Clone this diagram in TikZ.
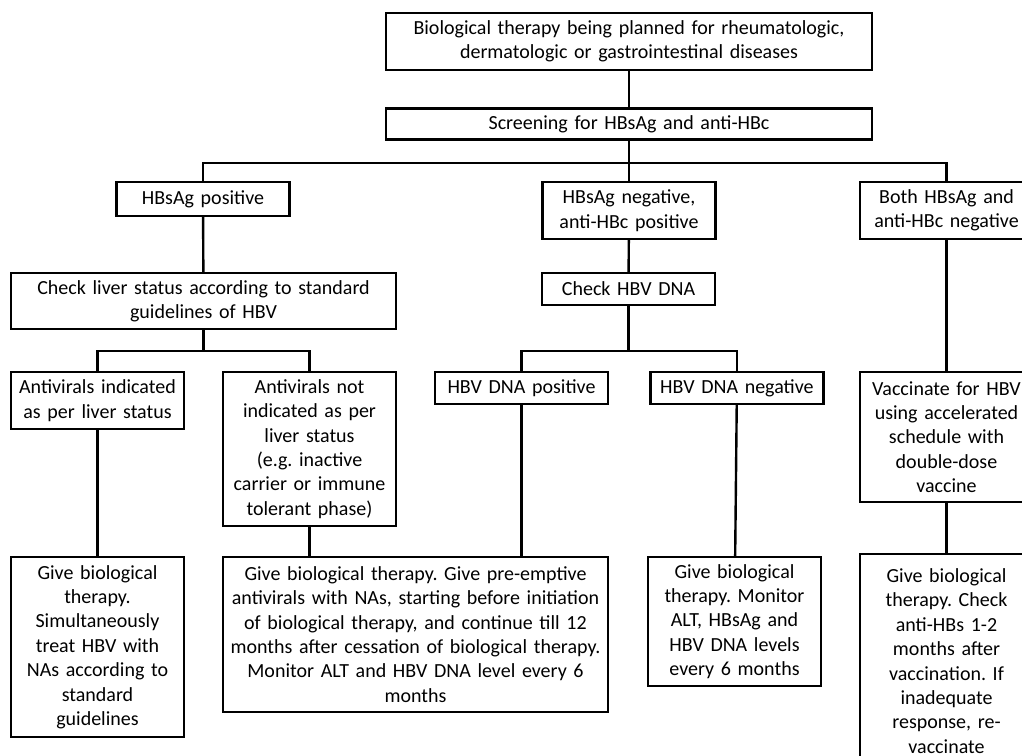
\documentclass[tikz,border=0pt]{standalone}
\usepackage{fontspec}
\setmainfont{Carlito}
\frenchspacing
\usetikzlibrary{positioning}
\tikzset{
    %Define style for boxes
    cell/.style={
           rectangle,
           draw=black, line width=2.4pt,
           text width=161pt,
           inner xsep=6pt, inner ysep=2pt,
           align=center,
           font=\fontsize{20}{24.4}\selectfont},
    %Define style for the wider boxes
    widecell/.style={
           cell,
           text width=373pt},
    % Define connector style
    link/.style={
           line width=2.4pt}
}

\begin{document}
\begin{tikzpicture}[x=1pt,y=-1pt]
\useasboundingbox (0,0) rectangle (1022,755);
\clip (0,0) rectangle (1022,755);
\node [widecell,text width=474pt,minimum height=57pt] (plan) at (629,41.5) {Biological therapy being planned for rheumatologic,\\ dermatologic or gastrointestinal diseases};
\node [widecell,text width=474pt,minimum height=31pt,below=36pt of plan] (screen) {Screening for HBsAg and anti-HBc};
\node [cell,minimum height=34pt] (pos) at (203,199) {HBsAg positive};
\node [cell,minimum height=57pt] (neg) at (629,210.5) {HBsAg negative,\\ anti-HBc positive};
\node [cell,minimum height=57pt] (both) at (946.5,210.5) {Both HBsAg and\\ anti-HBc negative};
\node [widecell,minimum height=56pt] (liver) at (203.5,301) {Check liver status according to standard\\ guidelines of HBV};
\node [cell,minimum height=32pt] (dna) at (628.5,289) {Check HBV DNA};
\node [cell,minimum height=57pt] (ind) at (97.5,400.5) {Antivirals indicated\\ as per liver status};
\node [cell,minimum height=154pt] (notind) at (309.5,449) {Antivirals not\\ indicated as per\\ liver status\\ (e.g. inactive\\ carrier or immune\\ tolerant phase)};
\node [cell,minimum height=32pt] (dnapos) at (521.5,388) {HBV DNA positive};
\node [cell,minimum height=32pt,right=40pt of dnapos] (dnaneg) {HBV DNA negative};
\node [cell,minimum height=130pt] (vacc) at (946.5,437) {Vaccinate for HBV\\ using accelerated\\ schedule with\\ double-dose\\ vaccine};
\node [cell,minimum height=180pt] (givea) at (97.5,647) {Give biological\\ therapy.\\ Simultaneously\\ treat HBV with\\ NAs according to\\ standard\\ guidelines};
\node [widecell,minimum height=155pt] (giveb) at (415.5,634.5) {Give biological therapy. Give pre-emptive\\ antivirals with NAs, starting before initiation\\ of biological therapy, and continue till 12\\ months after cessation of biological therapy.\\ Monitor ALT and HBV DNA level every 6\\ months};
\node [cell,minimum height=129pt] (givec) at (734.5,621.5) {Give biological\\ therapy. Monitor\\ ALT, HBsAg and\\ HBV DNA levels\\ every 6 months};
\node [cell,minimum height=214pt] (gived) at (946.5,661) {Give biological\\ therapy. Check\\ anti-HBs 1-2\\ months after\\ vaccination. If\\ inadequate\\ response, re-\\ vaccinate};
% split points
\coordinate (splita) at (629,163);
\coordinate (splitb) at (203.5,351);
\coordinate (splitc) at (628.5,351);
% connectors
\draw [link] (plan) -- (screen);
\draw [link] (screen) -- (neg);
\draw [link] (pos.north) |- (splita) -| (both.north);
\draw [link] (pos) -- (liver);
\draw [link] (neg) -- (dna);
\draw [link] (liver.south) -- (splitb);
\draw [link] (ind.north) |- (splitb) -| (notind.north);
\draw [link] (dna.south) -- (splitc);
\draw [link] (dnapos.north) |- (splitc) -| (dnaneg.north);
\draw [link] (both) -- (vacc);
\draw [link] (ind) -- (givea);
\draw [link] (notind.south) -- (notind.south |- giveb.north);
\draw [link] (dnapos.south) -- (dnapos.south |- giveb.north);
\draw [link] (dnaneg) -- (givec);
\draw [link] (vacc) -- (gived);
\end{tikzpicture}
\end{document}
